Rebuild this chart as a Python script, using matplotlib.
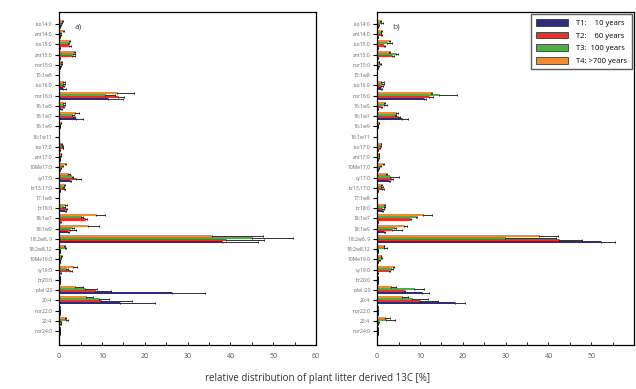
import matplotlib.pyplot as plt
import numpy as np
from matplotlib.patches import Patch
from matplotlib.ticker import MultipleLocator

plt.rcParams['font.family'] = ['Open Sans', 'DejaVu Sans']

# fatty acid categories, top to bottom
categories = ['iso14:0', 'ant14:0', 'iso15:0', 'ant15:0', 'nor15:0', '15:1w8',
              'iso16:0', 'nor16:0', '16:1w5', '16:1w7', '16:1w9', '16:1w11',
              'iso17:0', 'ant17:0', '10Me17:0', 'cy17:0', 'br13,17:0', '17:1w8',
              'br18:0', '18:1w7', '18:1w9', '18:2w6, 9', '18:2w8,12', '10Me19:0',
              'cy19:0', 'br20:0', 'plel i20', '20:4', 'nor22:0', '22:4', 'nor24:0']

series_labels = ['T1:    10 years', 'T2:    60 years', 'T3:  100 years', 'T4: >700 years']
series_colors = ['#2e2c7c', '#e8312b', '#4fae47', '#f38a2c']

# panel a) values and errors
a_t1 = [0.2, 0.1, 0.1, 0.1, 0.1, 0, 1.0, 11.4, 0.5, 4.0, 0, 0, 0.1, 0.1, 0.1, 2.5,
        0.2, 0, 1.3, 0.3, 2.1, 38.0, 0.2, 0.1, 0.3, 0.1, 26.4, 14.2, 0.1, 0.3, 0.2]
a_t2 = [0.3, 0.3, 2.3, 3.0, 0.3, 0, 0.8, 13.8, 0.8, 3.3, 0.1, 0, 0.8, 0.2, 0.4, 4.0,
        1.2, 0, 1.5, 6.0, 2.5, 39.0, 0.2, 0.2, 2.6, 0.2, 8.4, 9.8, 0.2, 0.4, 0.3]
a_t3 = [0.5, 0.3, 2.0, 3.3, 0.5, 0, 1.0, 10.7, 1.0, 2.9, 0.1, 0, 0.6, 0.3, 0.6, 2.9,
        1.0, 0, 1.0, 5.1, 2.9, 45.1, 1.3, 0.4, 1.7, 0.1, 6.1, 9.4, 0.1, 1.7, 0.1]
a_t4 = [0.6, 0.9, 2.3, 3.4, 0.5, 0, 1.0, 13.4, 1.0, 3.7, 0.4, 0, 0.5, 0.4, 1.3, 2.1,
        1.2, 0, 1.3, 8.5, 6.8, 35.7, 1.1, 0.5, 3.3, 0.1, 3.6, 6.2, 0.1, 1.3, 0.1]
a_e1 = [0.1, 0.1, 0.1, 0.1, 0.1, 0, 0.5, 3.6, 0.2, 1.5, 0, 0, 0, 0, 0, 0.3,
        0.1, 0, 0.3, 0.1, 0.3, 8.5, 0.1, 0, 0.1, 0, 7.6, 8.1, 0, 0.1, 0]
a_e2 = [0.2, 0.1, 0.4, 0.6, 0.2, 0, 0.3, 1.3, 0.3, 0.4, 0, 0, 0.1, 0.1, 0.1, 1.0,
        0.1, 0, 0.4, 0.6, 1.4, 8.9, 0.1, 0.1, 0.5, 0, 3.7, 7.2, 0, 0.1, 0]
a_e3 = [0.2, 0.1, 0.3, 0.5, 0.2, 0, 0.3, 2.4, 0.3, 0.5, 0, 0, 0.2, 0.1, 0.2, 0.4,
        0.2, 0, 0.3, 0.5, 0.5, 9.6, 0.2, 0.1, 0.4, 0, 2.8, 2.3, 0, 0.4, 0]
a_e4 = [0.3, 0.3, 0.3, 0.4, 0.2, 0, 0.4, 4.1, 0.3, 1.0, 0.1, 0, 0.2, 0.1, 0.3, 0.4,
        0.1, 0, 0.6, 2.2, 2.5, 11.9, 0.3, 0.2, 0.9, 0, 1.9, 1.6, 0, 0.2, 0]

# panel b) values and errors
b_t1 = [0.1, 0.1, 0.1, 0.1, 0.1, 0, 1.0, 10.9, 0.1, 5.9, 0, 0, 0.1, 0.1, 0.1, 2.7,
        0.2, 0, 1.2, 0.2, 1.6, 52.3, 0.2, 0.1, 0.2, 0.2, 10.5, 18.1, 0.1, 0.2, 0.2]
b_t2 = [0.4, 1.0, 1.6, 3.5, 0.3, 0, 1.0, 12.1, 0.9, 4.9, 0.1, 0, 0.5, 0.3, 0.4, 3.3,
        1.2, 0, 1.2, 7.6, 3.5, 42.5, 0.2, 0.5, 2.7, 0.2, 6.2, 10.1, 0.2, 0.3, 0.3]
b_t3 = [0.8, 0.8, 2.3, 4.3, 0.6, 0, 1.2, 14.5, 1.5, 4.1, 0.1, 0, 0.7, 0.4, 0.7, 3.1,
        1.0, 0, 1.5, 9.0, 3.9, 29.9, 1.6, 0.9, 3.3, 0.1, 8.6, 8.2, 0.1, 2.1, 0.1]
b_t4 = [0.6, 0.8, 2.7, 2.7, 0.4, 0, 1.0, 12.5, 1.5, 4.5, 0.4, 0, 0.8, 0.4, 1.4, 2.0,
        0.8, 0, 1.5, 10.8, 6.2, 37.9, 1.5, 0.8, 3.7, 0.1, 3.3, 5.9, 0.1, 1.9, 0.1]
b_e1 = [0, 0, 0, 0, 0, 0, 0.2, 0.6, 0, 1.3, 0, 0, 0, 0, 0, 0.3,
        0, 0, 0.2, 0.1, 0.2, 3.3, 0.1, 0, 0.1, 0, 1.6, 2.4, 0, 0.1, 0]
b_e2 = [0.1, 0.2, 0.3, 0.4, 0.1, 0, 0.3, 0.9, 0.2, 0.4, 0, 0, 0.1, 0.1, 0.1, 0.4,
        0.3, 0, 0.3, 0.2, 2.3, 5.3, 0.1, 0.1, 0.4, 0, 0.4, 4.1, 0, 0.1, 0]
b_e3 = [0.5, 0.2, 1.2, 0.5, 0.2, 0, 0.3, 4.1, 0.8, 0.4, 0, 0, 0.2, 0.1, 0.1, 2.1,
        0.3, 0, 0.3, 0.4, 0.4, 11.9, 0.8, 0.2, 0.3, 0, 2.3, 3.6, 0, 2.0, 0]
b_e4 = [0.2, 0.3, 0.3, 0.4, 0.1, 0, 0.5, 0.4, 0.3, 0.4, 0.1, 0, 0.2, 0.1, 0.2, 0.4,
        0.3, 0, 0.4, 2.1, 0.7, 4.4, 0.2, 0.2, 0.3, 0, 1.2, 1.3, 0, 1.1, 0]

xticks = [0, 10, 20, 30, 40, 50, 60]

fig = plt.figure(figsize=(6.36, 3.89), dpi=100)
ax_a = fig.add_axes([0.093, 0.113, 0.404, 0.856])
ax_b = fig.add_axes([0.593, 0.113, 0.404, 0.856])

y = np.arange(len(categories))
bar_h = 0.2
offsets = [0.3, 0.1, -0.1, -0.3]  # T1 bottom ... T4 top (axis inverted)


def draw_panel(ax, values, errors, label, last_label=True):
    for vals, errs, off, col in zip(values, errors, offsets, series_colors):
        # one-sided error bars (upper side only)
        xerr = [np.zeros(len(errs)), errs]
        ax.barh(y + off, vals, height=bar_h, color=col, linewidth=0,
                xerr=xerr, error_kw=dict(ecolor='#111111', elinewidth=0.6, capsize=1.0, capthick=0.6))
    ax.set_ylim(len(categories) - 1 + 1.37, -1.17)
    ax.set_xlim(0, 60)
    ax.set_yticks(y)
    ax.set_yticklabels(categories, fontsize=3.6, color='#666666')
    ax.set_xticks(xticks)
    tick_txt = [str(t) for t in xticks]
    if not last_label:
        tick_txt[-1] = ''
    ax.set_xticklabels(tick_txt, fontsize=5, color='#555555')
    ax.xaxis.set_minor_locator(MultipleLocator(5))
    ax.tick_params(axis='y', direction='out', length=3, width=0.8, pad=2)
    ax.tick_params(axis='x', which='both', direction='in', length=2, width=0.6, pad=6)
    for sp in ax.spines.values():
        sp.set_linewidth(0.9)
    ax.text(0.06, 0.965, label, transform=ax.transAxes, fontsize=6, color='#444444', va='top')


draw_panel(ax_a, [a_t1, a_t2, a_t3, a_t4], [a_e1, a_e2, a_e3, a_e4], 'a)')
draw_panel(ax_b, [b_t1, b_t2, b_t3, b_t4], [b_e1, b_e2, b_e3, b_e4], 'b)', last_label=False)

handles = [Patch(facecolor=c, edgecolor='#222222', linewidth=0.5) for c in series_colors]
ax_b.legend(handles, series_labels, loc='upper right', fontsize=5.5, frameon=True, fancybox=False,
            edgecolor='#333333', handlelength=4.2, handleheight=1.0, borderaxespad=0.3,
            labelspacing=0.6, handletextpad=1.1, borderpad=0.6)

fig.text(0.5, 0.02, 'relative distribution of plant litter derived 13C [%]', ha='center',
         fontsize=7, color='#333333')

fig.savefig('out.png', dpi=100)
